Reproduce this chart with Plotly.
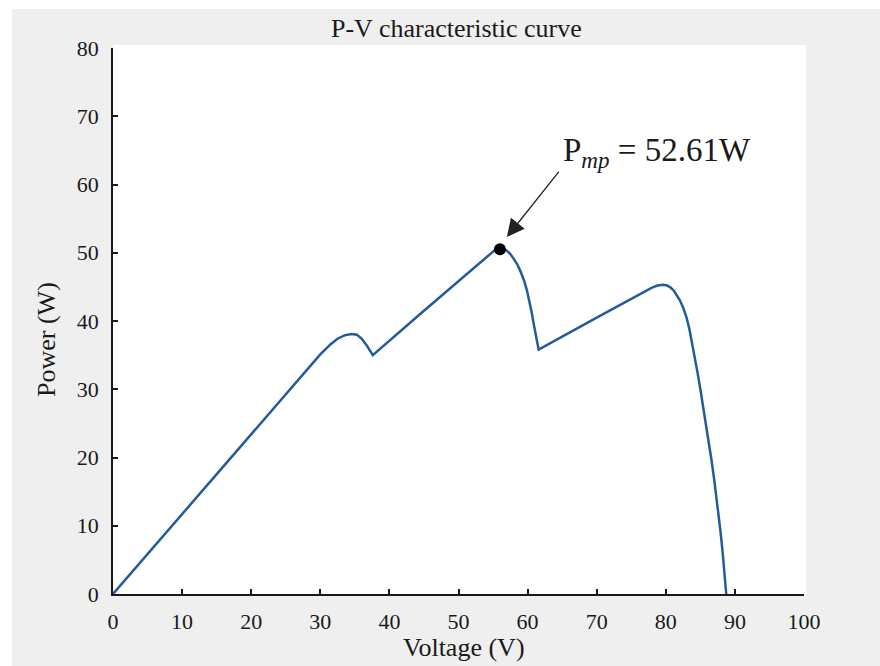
import plotly.graph_objects as go

# ---- data ----
voltage = [0, 10, 20, 30, 31.5, 32.5, 33.5, 34.5, 35.3, 36.0, 36.8, 37.6,
           45.0, 55.0, 55.5, 56.0, 56.5, 57.0, 57.5, 58.0, 58.5, 59.0, 59.5, 59.9,
           60.3, 60.6, 60.9, 61.2, 61.4, 61.6,
           70.0, 78.0, 78.8, 79.6, 80.2, 80.7, 81.2, 81.6, 82.0, 82.5, 83.0, 83.4,
           83.8, 84.2, 84.6, 85.0, 85.4, 85.8, 86.2, 86.6, 87.0, 87.3, 87.6, 87.9,
           88.2, 88.4, 88.6, 88.75]
power = [0, 11.7, 23.4, 35.1, 36.6, 37.4, 37.9, 38.1, 38.0, 37.4, 36.3, 35.0,
         41.5, 50.3, 50.6, 50.7, 50.6, 50.3, 49.8, 49.1, 48.3, 47.2, 45.9, 44.5,
         42.8, 41.2, 39.5, 37.7, 36.6, 35.8,
         40.5, 44.9, 45.2, 45.3, 45.2, 44.9, 44.4, 43.8, 43.1, 42.0, 40.5, 38.9,
         36.9, 34.7, 32.4, 30.0, 27.5, 25.0, 22.4, 19.7, 16.8, 14.5, 12.0, 9.3,
         6.4, 4.3, 2.0, 0.0]
mpp_v = [56.0]
mpp_p = [50.5]
x_ticks = [0, 10, 20, 30, 40, 50, 60, 70, 80, 90, 100]
y_ticks = [0, 10, 20, 30, 40, 50, 60, 70, 80]

FONT = "Liberation Serif, Times New Roman, serif"
INK = "#1a1a1a"

fig = go.Figure()
fig.add_trace(go.Scatter(x=voltage, y=power, mode="lines",
                         line=dict(color="#245b9a", width=2.5),
                         hoverinfo="skip", showlegend=False))
fig.add_trace(go.Scatter(x=mpp_v, y=mpp_p, mode="markers",
                         marker=dict(color="black", size=12),
                         hoverinfo="skip", showlegend=False))

axis_common = dict(showgrid=False, zeroline=False, showline=True, linecolor=INK,
                   linewidth=1.5, ticks="inside", ticklen=5, tickwidth=1.5,
                   tickcolor=INK, mirror=False,
                   tickfont=dict(family=FONT, size=22, color=INK))
fig.update_xaxes(range=[0, 100], tickvals=x_ticks, ticklabelstandoff=7, **axis_common)
fig.update_yaxes(range=[0, 80], tickvals=y_ticks, ticklabelstandoff=8, **axis_common)

W, H = 880, 666
L, R, T, B = 113, 76, 48, 72
pw, ph = W - L - R, H - T - B

def px_x(p):
    return (p - L) / pw

def px_y(p):
    return (H - B - p) / ph

shapes = [
    dict(type="rect", xref="paper", yref="paper", layer="below",
         x0=px_x(12), x1=px_x(900), y0=px_y(700), y1=px_y(9),
         fillcolor="#efefef", line=dict(width=0)),
    dict(type="rect", xref="paper", yref="paper", layer="below",
         x0=0, x1=px_x(806), y0=0, y1=px_y(45),
         fillcolor="white", line=dict(width=0)),
]

annotations = [
    dict(text="P-V characteristic curve", xref="paper", yref="paper",
         x=px_x(456), y=px_y(29), showarrow=False, xanchor="center", yanchor="middle",
         font=dict(family=FONT, size=26, color=INK)),
    dict(text="Voltage (V)", xref="paper", yref="paper",
         x=px_x(464), y=px_y(647), showarrow=False, xanchor="center", yanchor="middle",
         font=dict(family=FONT, size=26, color=INK)),
    dict(text="Power (W)", xref="paper", yref="paper", textangle=-90,
         x=px_x(46), y=px_y(340), showarrow=False, xanchor="center", yanchor="middle",
         font=dict(family=FONT, size=26, color=INK)),
    dict(text="", x=57.0, y=52.3, xref="x", yref="y", ax=64.7, ay=62.1,
         axref="x", ayref="y", showarrow=True, arrowhead=2, arrowsize=2.7,
         arrowwidth=1.3, arrowcolor="#222222", standoff=0),
    dict(text="P<sub><i>mp</i></sub> = 52.61W", xref="paper", yref="paper",
         x=px_x(561), y=px_y(152), showarrow=False, xanchor="left", yanchor="middle",
         font=dict(family=FONT, size=33, color=INK)),
]

fig.update_layout(width=W, height=H, margin=dict(l=L, r=R, t=T, b=B, pad=0),
                  paper_bgcolor="white", plot_bgcolor="white",
                  font=dict(family=FONT, color=INK),
                  shapes=shapes, annotations=annotations, showlegend=False)

fig.write_html("out.html")
